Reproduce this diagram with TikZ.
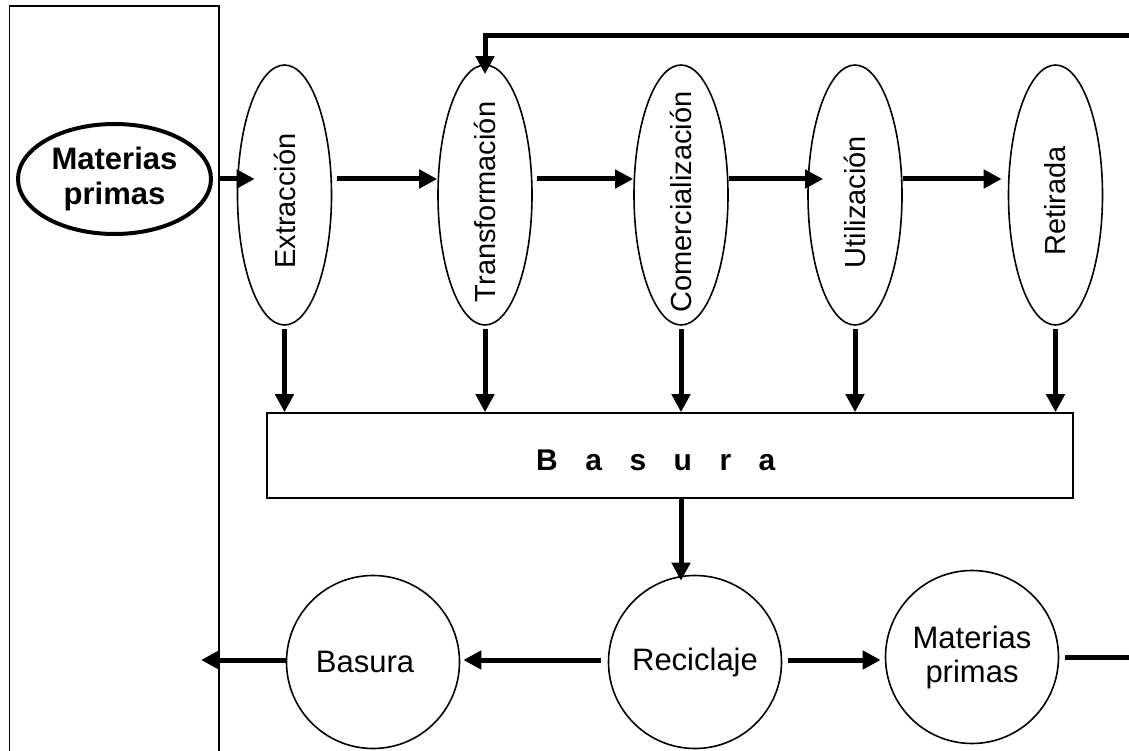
\documentclass[tikz,border=0pt]{standalone}
\usepackage{fontspec}
\setmainfont{Liberation Sans}
\usetikzlibrary{arrows.meta,shapes.geometric,calc}
\begin{document}
\begin{tikzpicture}[x=1pt,y=-1pt,line join=miter,
  arr/.style={line width=5pt,-{Triangle[length=18pt,width=18pt]}},
  bar/.style={line width=5pt},
  frameline/.style={line width=1.6pt},
  source/.style={draw,ellipse,line width=4pt,minimum width=193pt,minimum height=110pt,
    inner sep=0pt,align=center,font=\bfseries\fontsize{31}{35}\selectfont},
  stage/.style={draw,ellipse,line width=1.6pt,minimum width=94pt,minimum height=260pt,inner sep=0pt},
  vlab/.style={rotate=90,inner sep=0pt,font=\fontsize{29}{33}\selectfont},
  bin/.style={draw,rectangle,line width=1.6pt,minimum width=806pt,minimum height=85pt,inner sep=0pt},
  bintext/.style={inner sep=0pt,font=\bfseries\fontsize{30}{34}\selectfont},
  disc/.style={draw,circle,line width=1.6pt,minimum size=173pt,inner sep=0pt,align=center,
    font=\fontsize{31}{34}\selectfont}]

\useasboundingbox (0,0) rectangle (1129,751);

% outer boundary (open at the bottom)
\draw[frameline] (9.5,760) -- (9.5,6) -- (219,6) -- (219,760);

% input
\node[source] (src) at (114.5,179) {Materias\\primas};

% life-cycle stages
\node[stage] (ext) at (284.5,195) {};
\node[stage] (tra) at (485,195) {};
\node[stage] (com) at (681,195) {};
\node[stage] (uti) at (855,195) {};
\node[stage] (ret) at (1055.5,195) {};
\node[vlab] (ext-l) at (284.5,201) {Extracción};
\node[vlab] (tra-l) at (485,202) {Transformación};
\node[vlab] (com-l) at (681,202) {Comercialización};
\node[vlab] (uti-l) at (855,202) {Utilización};
\node[vlab] (ret-l) at (1055.5,201) {Retirada};

\coordinate (row)  at (0,179);
\coordinate (wall) at (219,179);
\draw[arr] (wall) -- ($(ext.west |- row)+(18,0)$);
\draw[arr] ($(ext.east |- row)+(5,0)$) -- (tra.west |- row);
\draw[arr] ($(tra.east |- row)+(4,0)$) -- (com.west |- row);
\draw[arr] (com.east |- row) -- ($(uti.west |- row)+(16,0)$);
\draw[arr] (uti.east |- row) -- ($(ret.west |- row)+(-6,0)$);

% recycled material fed back into transformation
\coordinate (back) at (1129,35.5);
\draw[arr] (back) -- (back -| tra.north) -- ($(tra.north)+(0,10)$);

% waste
\node[bin] (bin) at (670,455.5) {};
\node[bintext,anchor=base west] (bintxt) at (536,470)
  {B\hspace{27.5pt}a\hspace{27.5pt}s\hspace{27.5pt}u\hspace{27.5pt}r\hspace{27.5pt}a};
\foreach \s in {ext,tra,com,uti,ret}
  \draw[arr] ($(\s.south)+(0,3)$) -- (\s.south |- bin.north);

% recycling loop
\node[disc] (waste) at (373,662) {Basura\hspace*{16pt}};
\node[disc] (rec)   at (695,662) {Reciclaje};
\node[disc] (raw)   at (972,657) {Materias\\primas};

\draw[arr] (com.south |- bin.south) -- ($(com.south |- rec.north)+(0,6)$);

\coordinate (brow) at (0,660);
\coordinate (out)  at (201,660);
\coordinate (edge) at (1129,657);
\draw[arr] ($(rec.west |- brow)+(-7,0)$) -- ($(waste.east |- brow)+(3,0)$);
\draw[arr] (waste.west |- brow) -- (out);
\draw[arr] ($(rec.east |- brow)+(6,0)$) -- ($(raw.west |- brow)+(-4,0)$);
\draw[bar] ($(raw.east |- edge)+(6,0)$) -- (edge);
\end{tikzpicture}
\end{document}
